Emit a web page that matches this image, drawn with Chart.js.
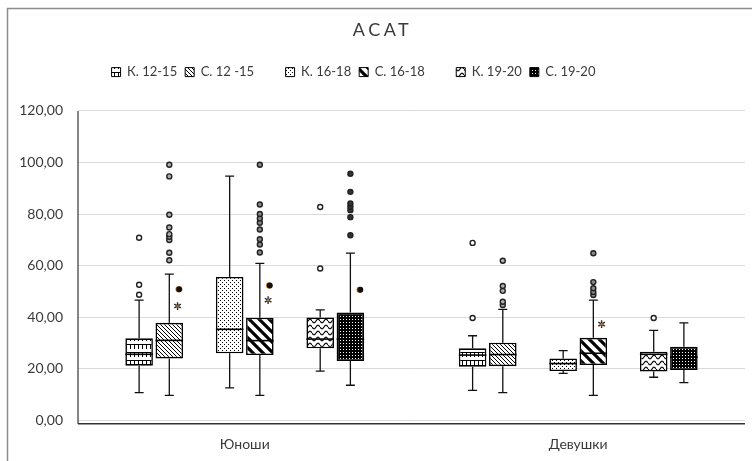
<!DOCTYPE html>
<html>
<head>
<meta charset="utf-8">
<script src="https://cdn.jsdelivr.net/npm/chart.js@4.4.1/dist/chart.umd.min.js"></script>
<style>
  html, body { margin: 0; padding: 0; background: #fff; }
  #wrap { width: 752px; height: 461px; }
</style>
</head>
<body>
<div id="wrap"><canvas id="c" width="752" height="461"></canvas></div>
<script>
// ---- data ---------------------------------------------------------------
const groups = ['Юноши', 'Девушки'];
const seriesLabels = ['К. 12-15', 'С. 12 -15', '', 'К. 16-18', 'С. 16-18', '', 'К. 19-20', 'С. 19-20'];
const yTickValues = [0, 20, 40, 60, 80, 100, 120];

// five-number summaries [min, Q1, median, Q3, max]: Юноши, Девушки
const k1215 = [[10.7, 21.2, 25.6, 31.8, 46.6], [11.6, 20.8, 25.3, 27.9, 32.8]];
const s1215 = [[9.7, 24.0, 31.0, 37.8, 56.7], [10.7, 21.0, 25.5, 30.1, 43.0]];
const k1618 = [[12.6, 26.0, 35.3, 55.6, 94.7], [18.2, 19.1, 22.0, 24.0, 27.0]];
const s1618 = [[9.7, 25.3, 30.9, 39.8, 60.9], [9.7, 21.4, 26.0, 32.0, 46.6]];
const k1920 = [[19.1, 27.9, 31.5, 39.9, 42.8], [16.7, 18.9, 25.6, 26.6, 34.9]];
const s1920 = [[13.6, 23.0, 31.5, 41.8, 64.8], [14.6, 19.5, 24.5, 28.5, 37.8]];

// outliers
const k1215Out = [[48.7, 52.6, 70.8], [39.7, 68.8]];
const s1215Out = [[62.1, 65.0, 69.9, 71.2, 72.2, 74.8, 79.7, 94.6, 99.1], [44.7, 46.0, 50.2, 52.1, 61.9]];
const k1618Out = [[], []];
const s1618Out = [[65.1, 68.2, 70.2, 74.0, 76.6, 78.3, 80.0, 83.7, 99.1], [48.6, 49.8, 51.2, 53.6, 64.8]];
const k1920Out = [[58.9, 82.7], [39.7]];
const s1920Out = [[71.8, 78.8, 81.5, 82.8, 84.1, 88.6, 95.6], []];

// extra markers beside some boxes: filled dot and asterisk
const s1215Dot = [50.8, null];
const s1215Star = [44.3, null];
const s1618Dot = [52.3, null];
const s1618Star = [46.6, 37.3];
const s1920Dot = [50.6, null];

// ---- fill patterns ------------------------------------------------------
function makePattern(w, h, paint, bg) {
  const c = document.createElement('canvas');
  c.width = w; c.height = h;
  const g = c.getContext('2d');
  g.fillStyle = bg || '#fff';
  g.fillRect(0, 0, w, h);
  g.fillStyle = '#000';
  g.strokeStyle = '#000';
  paint(g, w, h);
  return document.createElement('canvas').getContext('2d').createPattern(c, 'repeat');
}

const patBrick = makePattern(8, 8, g => {
  g.fillRect(0, 0, 8, 1);
  g.fillRect(2, 1, 1, 4);
  g.fillRect(6, 1, 1, 4);
});
const patLightDiag = makePattern(4, 4, g => {
  for (let i = 0; i < 4; i++) g.fillRect(i, i, 1, 1);
});
const patDots = makePattern(4, 4, g => {
  g.fillRect(0, 0, 1, 1);
  g.fillRect(2, 2, 1, 1);
});
const patWideDiag = makePattern(10, 10, g => {
  g.lineWidth = 3.2;
  g.beginPath();
  [-10, 0, 10].forEach(o => { g.moveTo(o - 1, -1); g.lineTo(o + 11, 11); });
  g.stroke();
});
const patWave = makePattern(8, 6, g => {
  g.lineWidth = 1.1;
  g.beginPath();
  for (let x = 0; x <= 8; x += 0.5) {
    const y = 3 + 1.8 * Math.sin(2 * Math.PI * x / 8);
    if (x === 0) g.moveTo(x, y); else g.lineTo(x, y);
  }
  g.stroke();
});
const patDarkGrid = makePattern(3, 3, g => {
  g.fillStyle = '#fff';
  g.fillRect(1, 1, 1, 1);
}, '#000');

// ---- datasets -------------------------------------------------------------
const seriesStats = [k1215, s1215, null, k1618, s1618, null, k1920, s1920];
const seriesOutliers = [k1215Out, s1215Out, null, k1618Out, s1618Out, null, k1920Out, s1920Out];
const seriesDots = [null, s1215Dot, null, null, s1618Dot, null, null, s1920Dot];
const seriesStars = [null, s1215Star, null, null, s1618Star, null, null, null];
const seriesFills = [patBrick, patLightDiag, null, patDots, patWideDiag, null, patWave, patDarkGrid];
const outlierFills = ['#fff', '#b0b0b0', null, '#fff', '#8a8a8a', null, '#fff', '#333'];

const datasets = seriesLabels.map((label, i) => {
  const stats = seriesStats[i];
  return {
    label,
    data: stats ? stats.map(s => [s[1], s[3]]) : groups.map(() => null),
    stats,
    outliers: seriesOutliers[i],
    dots: seriesDots[i],
    stars: seriesStars[i],
    outlierFill: outlierFills[i],
    backgroundColor: seriesFills[i] || 'rgba(0,0,0,0)',
    borderColor: '#000',
    borderWidth: 1.6,
    borderSkipped: false
  };
});

const FONT = 'Lato';
const TEXT = '#3a3a3a';

// ---- plugins ---------------------------------------------------------------
const frame = {
  id: 'frame',
  beforeDraw(chart) {
    const ctx = chart.ctx;
    ctx.save();
    ctx.fillStyle = '#fff';
    ctx.fillRect(0, 0, chart.width, chart.height);
    ctx.strokeStyle = '#8c8c8c';
    ctx.lineWidth = 1.5;
    ctx.beginPath();
    ctx.moveTo(7.5, chart.height);
    ctx.lineTo(7.5, 8.5);
    ctx.lineTo(chart.width, 8.5);
    ctx.stroke();
    ctx.restore();
  },
  afterDraw(chart) {
    const ctx = chart.ctx, a = chart.chartArea;
    ctx.save();
    ctx.strokeStyle = '#333';
    ctx.lineWidth = 1.2;
    ctx.beginPath();
    ctx.moveTo(a.left, a.top);
    ctx.lineTo(a.left, a.bottom + 3.5);
    ctx.stroke();
    ctx.lineWidth = 1.6;
    ctx.beginPath();
    ctx.moveTo(a.left, a.bottom + 3.5);
    ctx.lineTo(a.right, a.bottom + 3.5);
    ctx.stroke();
    ctx.restore();
  }
};

const blockSizes = {
  id: 'blockSizes',
  beforeInit(chart) {
    const legend = chart.legend;
    const fit = legend.fit;
    legend.fit = function () {
      fit.call(this);
      this.height = 53.3;
      this.lineWidths = this.lineWidths.map(w => w + 58);
    };
    const title = chart.titleBlock;
    const draw = title.draw;
    title.draw = function () {
      const c = this.ctx;
      c.save();
      c.letterSpacing = '3.5px';
      draw.call(this);
      c.restore();
    };
  }
};

const boxDetails = {
  id: 'boxDetails',
  afterDatasetsDraw(chart) {
    const ctx = chart.ctx, ys = chart.scales.y;
    chart.data.datasets.forEach((ds, di) => {
      if (!ds.stats) return;
      const meta = chart.getDatasetMeta(di);
      meta.data.forEach((bar, i) => {
        const s = ds.stats[i];
        if (!s) return;
        const x = bar.x, w = bar.width;
        const [mn, q1, md, q3, mx] = s.map(v => ys.getPixelForValue(v));
        ctx.save();
        // whiskers and caps
        ctx.strokeStyle = '#111';
        ctx.lineWidth = 1.3;
        ctx.beginPath();
        ctx.moveTo(x, q3); ctx.lineTo(x, mx);
        ctx.moveTo(x, q1); ctx.lineTo(x, mn);
        ctx.moveTo(x - 4.5, mx); ctx.lineTo(x + 4.5, mx);
        ctx.moveTo(x - 4.5, mn); ctx.lineTo(x + 4.5, mn);
        ctx.stroke();
        // median
        ctx.strokeStyle = '#000';
        ctx.lineWidth = 1.6;
        ctx.beginPath();
        ctx.moveTo(x - w / 2, md); ctx.lineTo(x + w / 2, md);
        ctx.stroke();
        // outliers
        (ds.outliers[i] || []).forEach(v => {
          const py = ys.getPixelForValue(v);
          ctx.beginPath();
          ctx.arc(x, py, 2.5, 0, Math.PI * 2);
          ctx.fillStyle = ds.outlierFill;
          ctx.fill();
          ctx.lineWidth = 1.4;
          ctx.strokeStyle = '#222';
          ctx.stroke();
        });
        // filled dot beside the box
        if (ds.dots && ds.dots[i] != null) {
          const py = ys.getPixelForValue(ds.dots[i]);
          const px = x + w * 0.36;
          ctx.beginPath();
          ctx.arc(px - 0.7, py, 3.1, 0, Math.PI * 2);
          ctx.fillStyle = '#d9822b';
          ctx.fill();
          ctx.beginPath();
          ctx.arc(px, py, 3.0, 0, Math.PI * 2);
          ctx.fillStyle = '#111';
          ctx.fill();
        }
        // asterisk beside the box
        if (ds.stars && ds.stars[i] != null) {
          const py = ys.getPixelForValue(ds.stars[i]);
          const px = x + w * 0.3;
          const r = 3.8;
          ctx.lineWidth = 1.4;
          ctx.strokeStyle = '#2a2a2a';
          ctx.beginPath();
          for (let k = 0; k < 3; k++) {
            const ang = Math.PI / 2 + k * Math.PI / 3;
            ctx.moveTo(px - r * Math.cos(ang), py - r * Math.sin(ang));
            ctx.lineTo(px + r * Math.cos(ang), py + r * Math.sin(ang));
          }
          ctx.stroke();
          ctx.beginPath();
          ctx.arc(px, py, 1.2, 0, Math.PI * 2);
          ctx.fillStyle = '#c8782a';
          ctx.fill();
        }
        ctx.restore();
      });
    });
  }
};

// ---- chart ----------------------------------------------------------------
new Chart(document.getElementById('c'), {
  type: 'bar',
  data: { labels: groups, datasets },
  plugins: [frame, blockSizes, boxDetails],
  options: {
    responsive: false,
    animation: false,
    devicePixelRatio: 1,
    layout: { padding: { left: 20, right: 7, top: 0, bottom: 0 } },
    datasets: { bar: { categoryPercentage: 0.724, barPercentage: 0.913 } },
    plugins: {
      title: {
        display: true,
        text: 'АСАТ',
        color: TEXT,
        font: { family: FONT, size: 18, weight: 'normal' },
        padding: { top: 19, bottom: 17 }
      },
      legend: {
        position: 'top',
        labels: {
          boxWidth: 9,
          boxHeight: 9,
          padding: 8,
          color: TEXT,
          font: { family: FONT, size: 13 },
          generateLabels(chart) {
            return chart.data.datasets.map((ds, i) => ({
              text: ds.label,
              fillStyle: ds.label ? ds.backgroundColor : 'rgba(0,0,0,0)',
              strokeStyle: ds.label ? '#000' : 'rgba(0,0,0,0)',
              lineWidth: ds.label ? 1 : 0,
              hidden: false,
              datasetIndex: i,
              fontColor: TEXT
            }));
          }
        }
      },
      tooltip: { enabled: false }
    },
    scales: {
      x: {
        grid: { display: false },
        border: { display: false },
        ticks: { color: TEXT, font: { family: FONT, size: 14 }, padding: 8 },
        afterFit(scale) { scale.height = 40.7; }
      },
      y: {
        min: 0,
        max: 120,
        grid: { color: '#d9d9d9', lineWidth: 1, drawTicks: false },
        border: { display: false },
        ticks: {
          color: TEXT,
          font: { family: FONT, size: 14 },
          padding: 15,
          callback: v => v.toFixed(2).replace('.', ',')
        },
        afterBuildTicks(scale) { scale.ticks = yTickValues.map(v => ({ value: v })); },
        afterFit(scale) { scale.width = 58; }
      }
    }
  }
});
</script>
</body>
</html>
